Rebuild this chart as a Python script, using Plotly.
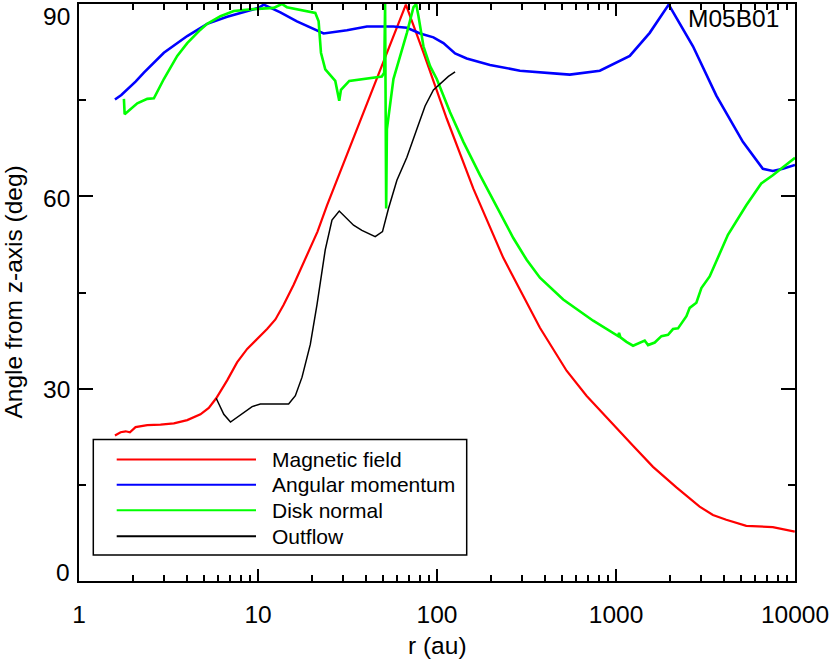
import plotly.graph_objects as go

# ---------------- data ----------------
mag_r = [1.588, 1.708, 1.822, 1.925, 2.07, 2.407, 2.855, 3.387, 4.024, 4.77, 5.31, 5.84,
         6.725, 7.64, 8.70, 9.886, 11.24, 12.51, 13.91, 15.82, 18.79, 21.5, 24.3, 28.82,
         48.2, 67.0, 84.0, 113.4, 159.6, 234.6, 375.8, 529.6, 684, 1007, 1245, 1610,
         2175, 2932, 3480, 4130, 5343, 7516, 9970]
mag_ang = [22.7, 23.2, 23.35, 23.2, 24.0, 24.3, 24.4, 24.6, 25.1, 26.0, 27.0, 28.5,
           31.3, 34.1, 36.2, 37.7, 39.3, 40.8, 43.1, 46.2, 50.9, 54.5, 58.6, 63.9,
           79.8, 89.9, 82.4, 72.1, 61.2, 50.4, 39.5, 32.8, 28.9, 23.8, 21.1, 17.8,
           14.6, 11.6, 10.3, 9.55, 8.6, 8.4, 7.7]

ang_r = [1.588, 1.724, 2.07, 2.304, 2.979, 4.024, 5.20, 6.725, 10.09, 10.76, 13.33, 16.5,
         23.25, 31.4, 40.6, 57.1, 67.9, 80.5, 95.5, 108.6, 126.2, 146.6, 197.7, 290.7,
         486, 552, 812, 1194, 1543, 1970, 2692, 3635, 5115, 6613, 7516, 8551, 10000]
ang_ang = [75.1, 75.8, 77.9, 79.3, 82.4, 85.0, 86.9, 88.0, 89.4, 89.9, 88.7, 87.3,
           85.4, 85.9, 86.5, 86.5, 86.3, 85.4, 84.8, 83.9, 82.3, 81.5, 80.5, 79.6,
           79.1, 78.98, 79.6, 81.9, 85.5, 89.9, 83.4, 75.7, 68.5, 64.3, 63.95, 64.3, 64.9]

disk_r = [1.782, 1.799, 2.117, 2.407, 2.62, 2.979, 3.538, 4.024, 4.77, 5.20, 6.17, 7.32,
          9.46, 12.23, 13.6, 14.5, 20.9, 21.81, 22.48, 23.76, 27.02, 28.44, 29.07, 32.35,
          49.2, 50.7, 51.3, 52.0, 52.5, 57.1, 62.3, 67.9, 73.9, 76.5, 78.8, 84.0, 91.5,
          99.7, 118.3, 140.4, 173.9, 266.8, 316.8, 375.8, 507, 745.5, 1027, 1040, 1059,
          1144, 1245, 1328, 1447, 1510, 1646, 1794, 1953, 2082, 2220, 2474, 2580, 2812,
          2999, 3336, 4220, 5344, 6478, 7516, 10000]
disk_ang = [75.2, 72.8, 74.5, 75.2, 75.3, 78.3, 81.9, 83.9, 86.0, 86.9, 88.1, 88.9,
            89.2, 89.4, 90.0, 89.5, 88.6, 87.3, 82.4, 79.8, 78.0, 74.9, 76.6, 78.0,
            78.7, 79.3, 90.0, 58.1, 70.5, 78.3, 81.9, 85.5, 89.5, 90.0, 88.1, 83.4, 80.3,
            78.3, 73.1, 68.5, 63.3, 53.5, 50.1, 47.3, 43.9, 40.6, 38.2, 38.7, 38.0,
            37.3, 36.7, 37.1, 37.5, 36.8, 37.2, 38.2, 38.4, 39.3, 39.4, 41.3, 42.6, 43.4,
            45.7, 47.5, 54.0, 58.6, 62.0, 63.3, 66.0]

out_r = [5.84, 6.44, 7.02, 9.27, 10.31, 12.23, 14.83, 16.17, 17.62, 19.6, 21.36, 23.76,
         25.9, 28.44, 34.18, 38.07, 45.16, 49.6, 53.58, 59.7, 67.9, 77.2, 85.8, 95.5,
         104.1, 115.8, 126.2]
out_ang = [28.5, 26.0, 24.8, 27.2, 27.6, 27.6, 27.6, 28.9, 31.8, 36.9, 43.1, 51.7,
           56.3, 57.7, 55.5, 54.7, 53.7, 54.5, 58.1, 62.5, 66.1, 70.5, 74.1, 76.6,
           77.5, 78.7, 79.4]

series_names = ["Magnetic field", "Angular momentum", "Disk normal", "Outflow"]
series_colors = ["#ff0000", "#0000ff", "#00ff00", "#000000"]

x_tickvals = [1, 10, 100, 1000, 10000]
x_ticktext = ["1", "10", "100", "1000", "10000"]
x_minor = [m * 10 ** k for k in range(4) for m in range(2, 10)]
y_tickvals = [0, 30, 60, 90]
y_ticktext = ["0", "30", "60", "90"]
y_minor = [15, 45, 75]

# ---------------- layout helpers ----------------
W, H = 831, 659
L, R, T, B = 79, 36, 2, 78
PW, PH = W - L - R, H - T - B
FONT = "Liberation Sans, Arial, Helvetica, sans-serif"


def px_x(px):
    return (px - L) / PW


def px_y(py):
    return (H - B - py) / PH


fig = go.Figure()
widths = [2.2, 2.6, 2.6, 1.5]
data = [(mag_r, mag_ang), (ang_r, ang_ang), (disk_r, disk_ang), (out_r, out_ang)]
for (xs, ys), name, col, w in zip(data, series_names, series_colors, widths):
    fig.add_trace(go.Scatter(x=xs, y=ys, mode="lines", name=name,
                             line=dict(color=col, width=w), showlegend=False,
                             hoverinfo="skip"))

common = dict(showline=True, linecolor="black", linewidth=2, mirror="allticks",
              ticks="inside", tickcolor="black", tickwidth=2, showgrid=False,
              zeroline=False)

fig.update_xaxes(type="log", range=[0, 4], tickmode="array", tickvals=x_tickvals,
                 ticktext=x_ticktext, ticklen=12, ticklabelstandoff=11,
                 tickfont=dict(family=FONT, size=24.5, color="black"),
                 minor=dict(tickmode="array", tickvals=x_minor, ticks="inside",
                            ticklen=6, tickwidth=2, tickcolor="black", showgrid=False),
                 **common)
fig.update_yaxes(range=[0, 90], tickmode="array", tickvals=y_tickvals,
                 showticklabels=False, ticklen=14,
                 minor=dict(tickmode="array", tickvals=y_minor, ticks="inside",
                            ticklen=7, tickwidth=2, tickcolor="black", showgrid=False),
                 **common)

annotations = []
# y tick labels
y_shifts = [9, -1, -2, -12]
for v, t, s in zip(y_tickvals, y_ticktext, y_shifts):
    annotations.append(dict(text=t, xref="paper", yref="y", x=0, y=v, xanchor="right",
                            yanchor="middle", xshift=-7, yshift=s, showarrow=False,
                            font=dict(family=FONT, size=24.5, color="black")))
# axis titles
annotations.append(dict(text="Angle from z-axis (deg)", xref="paper", yref="paper",
                        x=px_x(13), y=0.5, xanchor="center", yanchor="middle",
                        textangle=-90, showarrow=False,
                        font=dict(family=FONT, size=24.5, color="black")))
annotations.append(dict(text="r (au)", xref="paper", yref="paper", x=0.5, y=px_y(646),
                        xanchor="center", yanchor="middle", showarrow=False,
                        font=dict(family=FONT, size=24.5, color="black")))
# model label
annotations.append(dict(text="M05B01", xref="paper", yref="paper", x=px_x(781),
                        y=1, xanchor="right", yanchor="top", yshift=1, showarrow=False,
                        font=dict(family=FONT, size=24.5, color="black")))

# manual legend
shapes = [dict(type="rect", xref="paper", yref="paper", x0=px_x(93.3), x1=px_x(466.7),
               y0=px_y(555), y1=px_y(439), line=dict(color="black", width=1.5),
               fillcolor="white", layer="above")]
rows = [459, 484.3, 510, 536]
for name, col, row in zip(series_names, series_colors, rows):
    shapes.append(dict(type="line", xref="paper", yref="paper", x0=px_x(116.7),
                       x1=px_x(256), y0=px_y(row), y1=px_y(row),
                       line=dict(color=col, width=2), layer="above"))
    annotations.append(dict(text=name, xref="paper", yref="paper", x=px_x(270),
                            y=px_y(row), xanchor="left", yanchor="middle",
                            showarrow=False,
                            font=dict(family=FONT, size=21, color="black")))

fig.update_layout(width=W, height=H, margin=dict(l=L, r=R, t=T, b=B),
                  paper_bgcolor="white", plot_bgcolor="white",
                  annotations=annotations, shapes=shapes, showlegend=False,
                  font=dict(family=FONT, color="black"))

fig.write_html("out.html", config={"displayModeBar": False},
               post_script="document.body.style.margin='0';document.body.style.padding='0';")
